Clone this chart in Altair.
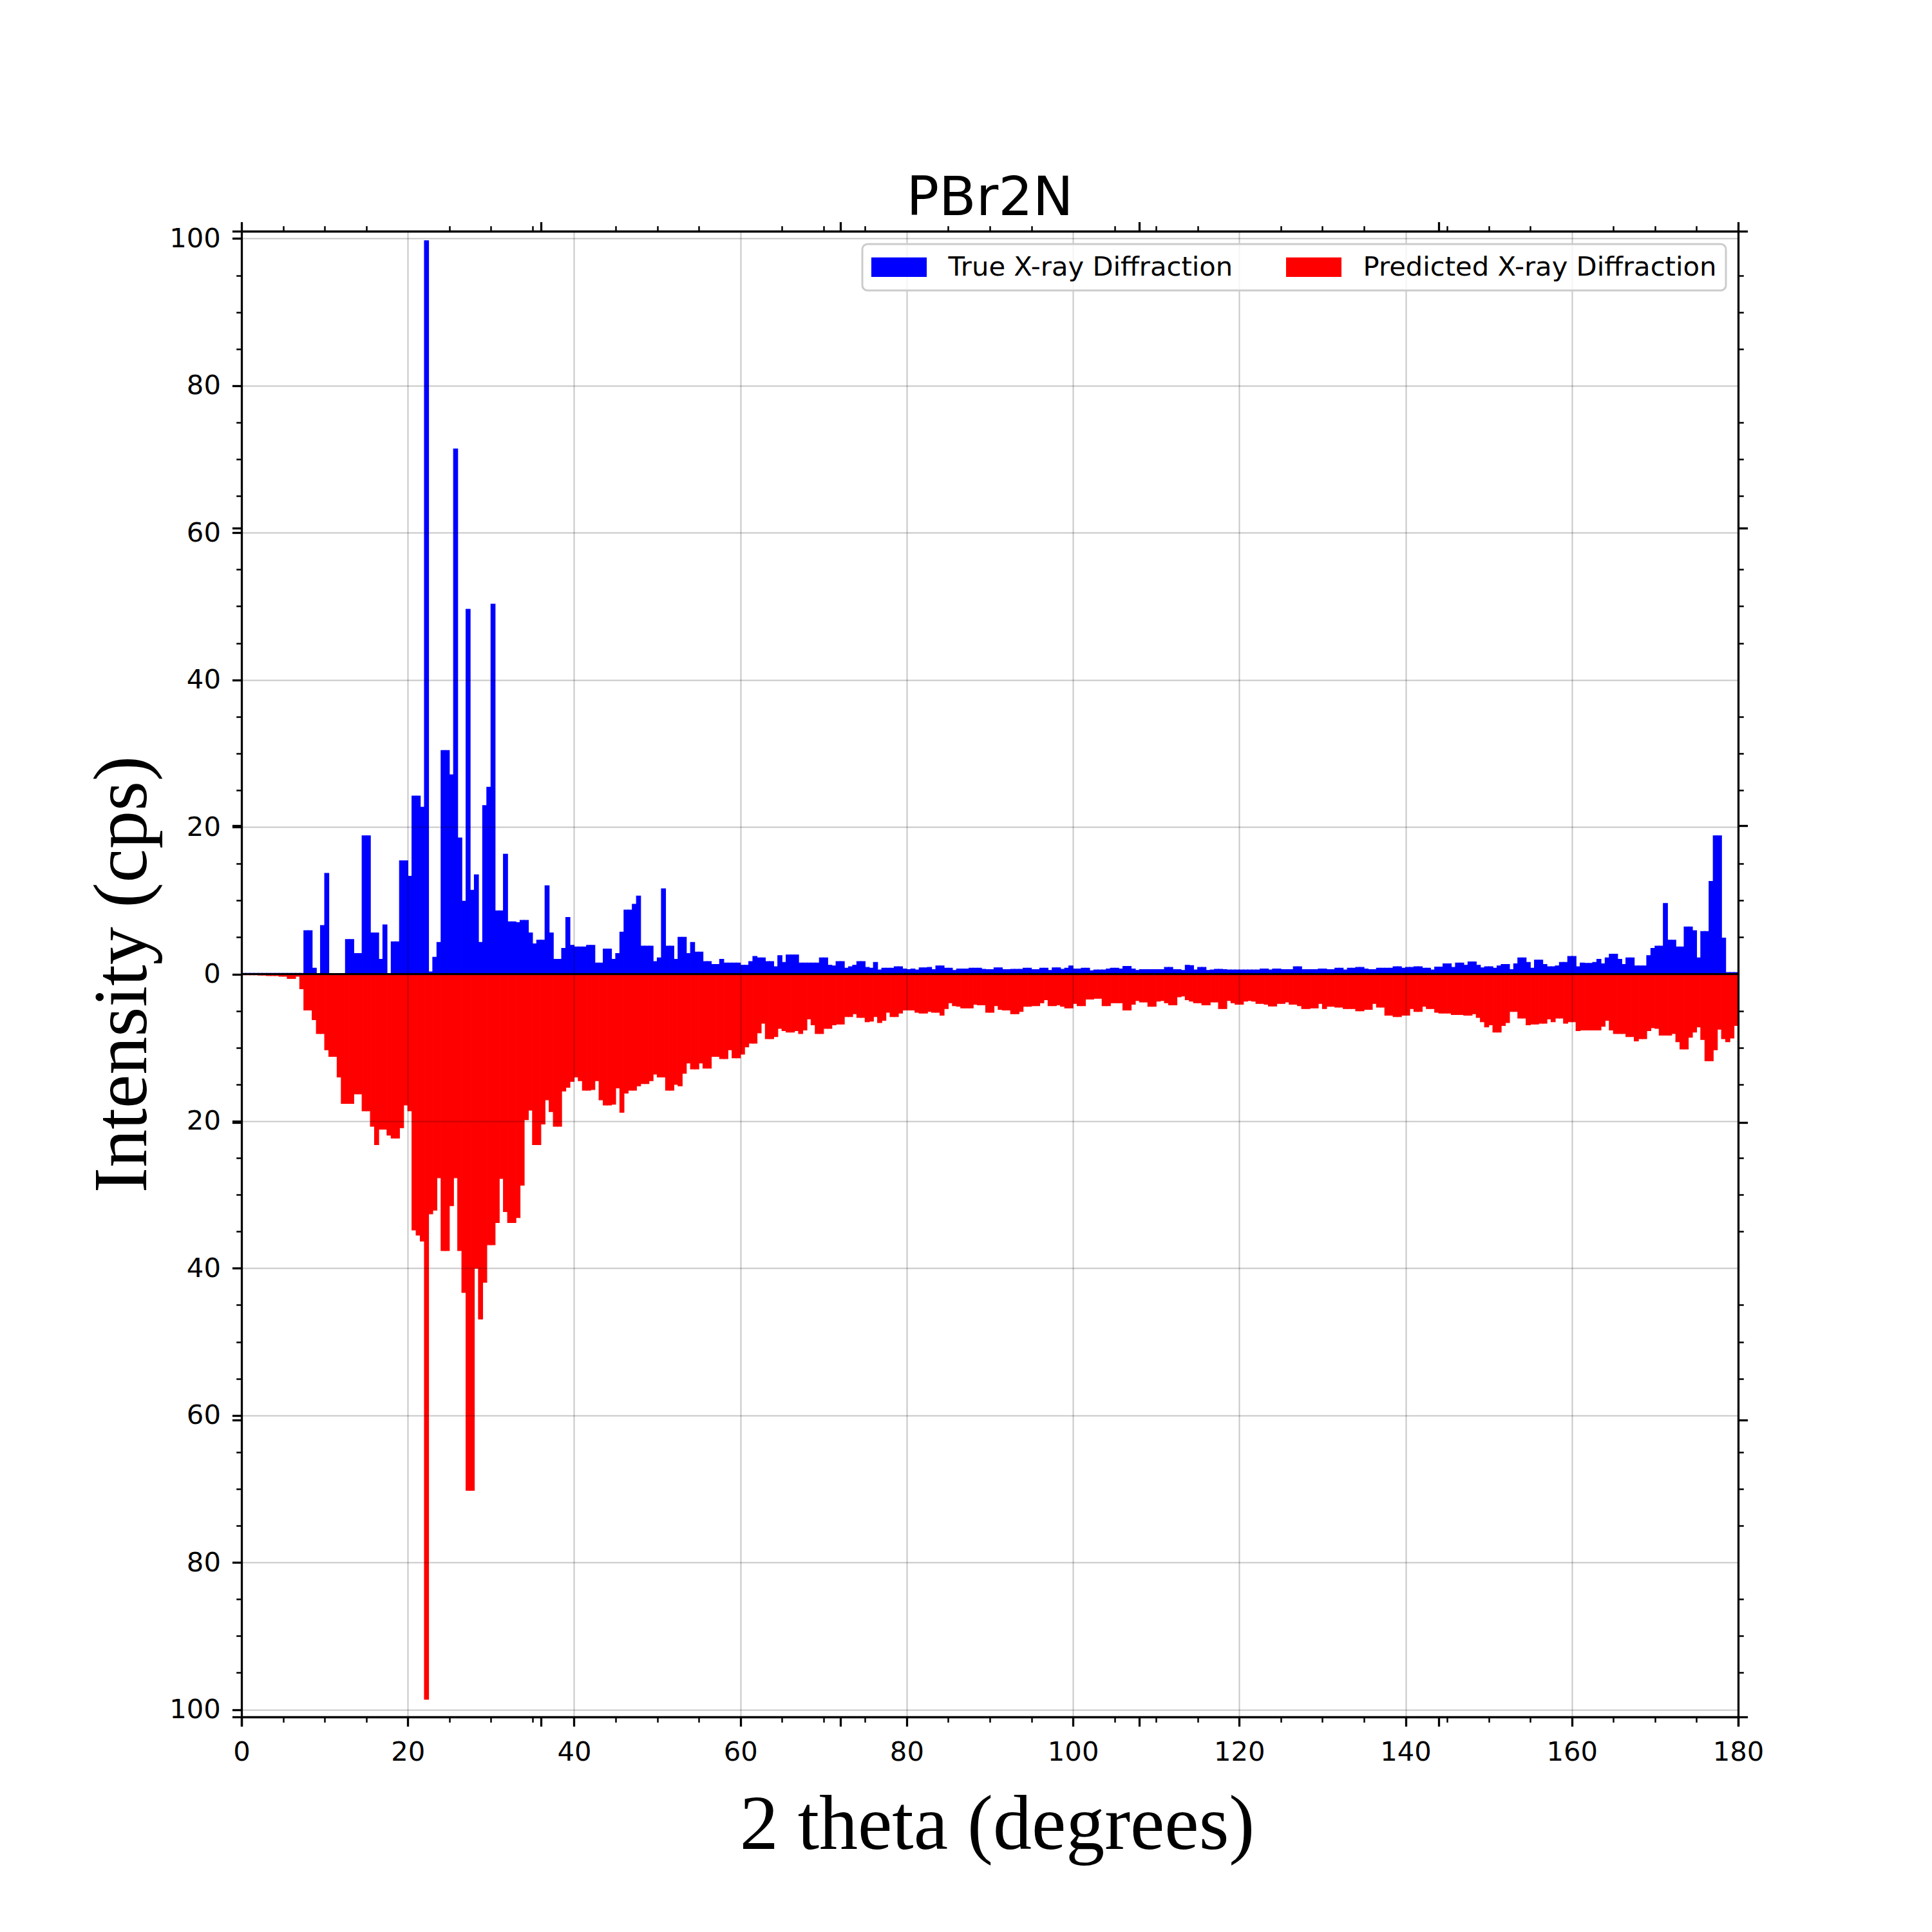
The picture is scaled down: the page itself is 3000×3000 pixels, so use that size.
import altair as alt
import pandas as pd

BIN_WIDTH = 0.5  # degrees covered by each bar

series_names = ["True X-ray Diffraction", "Predicted X-ray Diffraction"]
series_colors = ["#0000ff", "#ff0000"]

# intensities per 0.5-degree bin, 0..180 degrees (20 bins = 10 degrees per line)
true_intensity = [
    0.1, 0.1, 0.1, 0.1, 0.1, 0.1, 0.1, 0.1, 0.1, 0.1, 0.1, 0.1, 0.1, 0.1, 0.1, 5.9, 5.9, 0.8, 0.0, 6.6,
    13.7, 0.0, 0.0, 0.0, 0.0, 4.7, 4.7, 2.8, 2.8, 18.8, 18.8, 5.6, 5.6, 2.0, 6.7, 0.0, 4.4, 4.4, 15.4, 15.4,
    13.3, 24.2, 24.2, 22.7, 99.7, 0.3, 2.3, 4.3, 30.4, 30.4, 27.1, 71.4, 18.5, 9.9, 49.6, 11.4, 13.5, 4.3, 22.9, 25.4,
    50.3, 8.6, 8.6, 16.3, 7.1, 7.1, 7.0, 7.3, 7.3, 5.6, 4.1, 4.6, 4.6, 12.0, 5.6, 2.0, 2.0, 3.5, 7.7, 3.9,
    3.7, 3.7, 3.7, 3.9, 3.9, 1.5, 1.5, 3.4, 3.4, 2.0, 2.8, 5.7, 8.7, 8.7, 9.5, 10.6, 3.8, 3.8, 3.8, 1.7,
    2.2, 11.6, 3.8, 3.8, 2.0, 5.0, 5.0, 2.8, 4.3, 3.0, 3.0, 1.7, 1.7, 1.3, 1.3, 2.0, 1.5, 1.5, 1.5, 1.5,
    1.2, 1.2, 1.7, 2.4, 2.2, 2.2, 1.7, 1.7, 1.0, 2.5, 1.6, 2.6, 2.6, 2.6, 1.5, 1.5, 1.5, 1.5, 1.5, 2.2,
    2.2, 1.2, 1.1, 1.7, 1.7, 0.8, 1.0, 1.2, 1.7, 1.7, 0.9, 0.8, 1.6, 0.55, 0.8, 0.8, 0.8, 1.0, 1.0, 0.7,
    0.6, 0.7, 0.55, 0.85, 0.85, 0.9, 0.6, 1.1, 1.1, 0.8, 0.8, 0.5, 0.7, 0.7, 0.7, 0.8, 0.8, 0.8, 0.65, 0.6,
    0.6, 0.85, 0.85, 0.6, 0.6, 0.65, 0.65, 0.65, 0.8, 0.8, 0.6, 0.6, 0.8, 0.8, 0.5, 0.85, 0.85, 0.65, 0.8, 1.1,
    0.7, 0.7, 0.8, 0.8, 0.45, 0.55, 0.55, 0.55, 0.7, 0.8, 0.8, 0.7, 1.05, 1.05, 0.7, 0.5, 0.6, 0.6, 0.6, 0.6,
    0.6, 0.6, 0.9, 0.9, 0.6, 0.6, 0.5, 1.2, 1.15, 0.55, 0.9, 0.9, 0.5, 0.55, 0.65, 0.65, 0.6, 0.55, 0.55, 0.55,
    0.55, 0.55, 0.55, 0.55, 0.55, 0.7, 0.7, 0.55, 0.7, 0.7, 0.6, 0.6, 0.6, 1.0, 1.0, 0.6, 0.6, 0.6, 0.6, 0.7,
    0.7, 0.6, 0.6, 0.8, 0.8, 0.55, 0.8, 0.8, 0.9, 0.9, 0.7, 0.6, 0.6, 0.8, 0.8, 0.8, 0.8, 1.0, 1.0, 0.8,
    0.9, 0.9, 1.0, 1.0, 0.8, 0.8, 0.55, 0.95, 0.95, 1.4, 1.4, 0.9, 1.5, 1.5, 1.2, 1.65, 1.65, 1.2, 0.85, 1.0,
    1.0, 0.8, 1.1, 1.3, 1.3, 0.6, 1.4, 2.2, 2.2, 1.6, 0.8, 1.9, 1.9, 1.3, 1.0, 1.0, 1.1, 1.6, 1.6, 2.4,
    2.4, 1.0, 1.5, 1.45, 1.45, 1.6, 2.0, 1.4, 2.2, 2.7, 2.7, 2.0, 1.3, 2.2, 2.2, 1.1, 1.1, 1.1, 2.5, 3.5,
    3.8, 3.8, 9.6, 4.6, 4.6, 3.7, 3.7, 6.4, 6.4, 5.9, 2.2, 5.8, 5.8, 12.6, 18.8, 18.8, 4.9, 0.2, 0.2, 0.2,
]

predicted_intensity = [
    0.1, 0.1, 0.1, 0.1, 0.15, 0.15, 0.2, 0.2, 0.2, 0.3, 0.3, 0.6, 0.6, 0.3, 2.0, 4.9, 4.9, 6.2, 8.1, 8.1,
    10.3, 11.2, 11.2, 14.0, 17.6, 17.6, 17.6, 16.3, 16.3, 18.6, 18.6, 20.7, 23.2, 21.1, 21.1, 21.9, 22.3, 22.3, 20.9, 17.8,
    18.6, 34.8, 35.5, 36.3, 98.6, 32.6, 32.1, 27.7, 37.6, 37.6, 31.5, 27.7, 37.6, 43.3, 70.2, 70.2, 40.0, 46.9, 41.9, 36.8,
    36.8, 33.8, 27.8, 32.3, 33.8, 33.8, 33.1, 28.7, 19.8, 18.5, 23.2, 23.2, 20.4, 17.1, 18.7, 20.7, 20.7, 15.9, 15.4, 14.6,
    14.0, 14.5, 15.8, 15.8, 15.7, 14.5, 17.1, 17.8, 17.8, 17.7, 15.5, 18.8, 16.2, 15.8, 15.8, 15.2, 14.9, 14.9, 14.5, 13.6,
    14.0, 14.0, 15.8, 15.8, 15.0, 15.2, 13.5, 12.1, 12.9, 12.9, 12.1, 12.8, 12.8, 11.2, 11.2, 11.5, 11.5, 10.3, 11.4, 11.4,
    10.9, 9.9, 9.4, 9.4, 8.0, 6.7, 8.8, 8.8, 8.5, 7.4, 7.7, 7.9, 7.9, 7.7, 8.1, 7.6, 6.1, 6.9, 8.1, 8.1,
    7.4, 7.4, 6.9, 6.8, 6.8, 5.8, 5.8, 5.4, 5.9, 5.9, 6.5, 6.4, 5.8, 6.6, 6.3, 5.2, 5.8, 5.8, 5.3, 4.9,
    4.9, 4.9, 5.2, 5.3, 5.3, 5.1, 5.2, 5.2, 5.6, 4.7, 3.9, 4.3, 4.4, 4.6, 4.6, 4.6, 4.1, 4.2, 4.2, 5.2,
    5.2, 4.3, 4.8, 4.9, 4.9, 5.4, 5.4, 5.1, 4.4, 4.4, 4.3, 4.3, 3.9, 3.5, 4.3, 4.3, 4.2, 4.4, 4.6, 4.6,
    4.0, 4.3, 4.3, 3.4, 3.4, 3.3, 3.3, 4.3, 4.3, 3.9, 3.9, 3.9, 4.9, 4.9, 4.1, 3.6, 3.8, 3.8, 4.4, 4.4,
    3.7, 3.6, 3.9, 4.2, 4.2, 3.1, 3.0, 3.5, 3.7, 3.9, 3.9, 4.2, 4.2, 3.8, 3.8, 4.7, 4.7, 3.6, 3.9, 4.1,
    4.1, 3.7, 3.6, 3.7, 4.0, 4.0, 4.1, 4.35, 4.35, 4.0, 4.0, 3.8, 4.1, 4.1, 4.3, 4.7, 4.7, 4.6, 4.6, 4.0,
    4.7, 4.4, 4.4, 4.5, 4.5, 4.7, 4.7, 4.7, 5.0, 5.0, 4.8, 4.8, 4.0, 4.5, 4.5, 5.6, 5.6, 5.8, 5.8, 5.6,
    5.6, 4.7, 5.1, 5.1, 4.4, 4.7, 4.7, 5.2, 5.3, 5.3, 5.3, 5.5, 5.5, 5.5, 5.6, 5.6, 5.4, 5.9, 6.5, 7.2,
    6.9, 7.9, 7.9, 7.0, 6.6, 5.1, 5.1, 6.0, 6.0, 6.9, 6.8, 6.8, 6.7, 6.7, 6.1, 6.5, 6.0, 6.0, 6.7, 6.5,
    6.5, 7.7, 7.6, 7.6, 7.6, 7.6, 7.6, 7.1, 6.3, 7.6, 8.1, 8.1, 8.1, 8.5, 8.5, 9.1, 8.8, 8.8, 7.7, 7.3,
    7.4, 8.3, 8.3, 8.3, 8.1, 9.2, 10.2, 10.2, 8.6, 7.9, 7.2, 8.9, 11.8, 11.8, 10.3, 7.5, 8.8, 9.2, 8.7, 7.0,
]

# tick positions
x_major = list(range(0, 181, 20))
x_minor = [v for v in range(5, 180, 5) if v % 20]
x_twin = [0, 36, 72, 108, 144, 180]
y_major = list(range(-100, 101, 20))
y_minor = [v for v in range(-95, 100, 5) if v % 20]
y_twin = [-101, -60.6, -20.2, 20.2, 60.6, 101]

rows = []
for i, v in enumerate(true_intensity):
    rows.append({"theta": i * BIN_WIDTH, "intensity": v, "series": series_names[0]})
for i, v in enumerate(predicted_intensity):
    rows.append({"theta": i * BIN_WIDTH, "intensity": -v, "series": series_names[1]})
df = pd.DataFrame(rows)
anchor = pd.DataFrame({"theta": [0.0], "intensity": [0.0]})

x_scale = alt.Scale(domain=[0, 180], nice=False, zero=False)
y_scale = alt.Scale(domain=[-101, 101], nice=False, zero=False)
series_scale = alt.Scale(domain=series_names, range=series_colors)

MAJOR_LEN, MINOR_LEN = 14.6, 8.3
MAJOR_W, MINOR_W = 3.3, 2.5
GRID = dict(grid=True, gridColor="black", gridOpacity=0.22, gridWidth=2)

main_x_axis = alt.Axis(
    orient="bottom", values=x_major, format="d",
    tickSize=MAJOR_LEN, tickWidth=MAJOR_W, tickColor="black",
    labelFont="DejaVu Sans", labelFontSize=41.7, labelColor="black",
    labelPadding=20, labelFlush=False, labelOverlap=False,
    domain=True, domainColor="black", domainWidth=3.3,
    title="2 theta (degrees)", titleFont="Liberation Serif", titleFontSize=120,
    titleFontWeight="normal", titleColor="black", titleBaseline="alphabetic",
    titlePadding=128, titleX=1173, zindex=1, **GRID,
)
main_y_axis = alt.Axis(
    orient="left", values=y_major, labelExpr="abs(datum.value)",
    tickSize=MAJOR_LEN, tickWidth=MAJOR_W, tickColor="black",
    labelFont="DejaVu Sans", labelFontSize=41.7, labelColor="black",
    labelPadding=18, labelFlush=False, labelOverlap=False,
    domain=True, domainColor="black", domainWidth=3.3,
    title="Intensity (cps)", titleFont="Liberation Serif", titleFontSize=118,
    titleFontWeight="normal", titleColor="black", titleBaseline="alphabetic",
    titlePadding=36, zindex=1, **GRID,
)


def tick_axis(orient, values, size, width, domain=False):
    return alt.Axis(
        orient=orient, values=values, tickSize=size, tickWidth=width,
        tickColor="black", labels=False, grid=False, domain=domain,
        domainColor="black", domainWidth=3.3, title="", zindex=1,
    )


def guide_layer(xaxis, yaxis):
    return alt.Chart(anchor).mark_point(opacity=0, size=0).encode(
        x=alt.X("theta:Q", scale=x_scale, axis=xaxis),
        y=alt.Y("intensity:Q", scale=y_scale, axis=yaxis),
    )


bars = (
    alt.Chart(df)
    .transform_calculate(theta_end=f"datum.theta + {BIN_WIDTH}")
    .mark_bar(strokeWidth=1.2, opacity=1)
    .encode(
        x=alt.X("theta:Q", scale=x_scale, axis=main_x_axis),
        x2="theta_end:Q",
        y=alt.Y("intensity:Q", scale=y_scale, axis=main_y_axis),
        y2=alt.datum(0),
        stroke=alt.Stroke("series:N", scale=series_scale, legend=None),
        color=alt.Color(
            "series:N",
            scale=series_scale,
            legend=alt.Legend(
                title=None, orient="none", legendX=964, legendY=20,
                direction="horizontal",
                symbolType="M-2,-0.7H2V0.7H-2Z", symbolSize=1849,
                symbolStrokeWidth=0, symbolOffset=21.5, symbolOpacity=1,
                labelFont="DejaVu Sans", labelFontSize=41.7, labelColor="black",
                labelOffset=55, labelLimit=2000,
                padding=14, strokeColor="#cccccc",
                cornerRadius=8, fillColor="rgba(255,255,255,0.8)", zindex=2,
            ),
        ),
    )
)

zero_line = alt.Chart(anchor).mark_rule(color="black", strokeWidth=3).encode(
    y=alt.YDatum(datum=0, scale=y_scale, axis=None)
)

chart = (
    alt.layer(
        bars,
        zero_line,
        guide_layer(tick_axis("bottom", x_minor, MINOR_LEN, MINOR_W),
                    tick_axis("left", y_minor, MINOR_LEN, MINOR_W)),
        guide_layer(tick_axis("bottom", x_twin, MAJOR_LEN, MAJOR_W),
                    tick_axis("left", y_twin, MAJOR_LEN, MAJOR_W)),
        guide_layer(tick_axis("top", x_minor, MINOR_LEN, MINOR_W),
                    tick_axis("right", y_minor, MINOR_LEN, MINOR_W)),
        guide_layer(tick_axis("top", x_twin, MAJOR_LEN, MAJOR_W, domain=True),
                    tick_axis("right", y_twin, MAJOR_LEN, MAJOR_W, domain=True)),
    )
    .resolve_axis(x="independent", y="independent")
    .properties(
        width=2324,
        height=2307,
        title=alt.TitleParams(
            text="PBr2N", font="DejaVu Sans", fontSize=84, fontWeight="normal",
            color="black", anchor="middle", frame="group",
            baseline="alphabetic", offset=8, dy=83,
        ),
        autosize=alt.AutoSizeParams(type="none"),
        padding={"left": 367, "top": 351, "right": 293, "bottom": 326},
        background="white",
    )
    .configure_view(stroke=None)
    .configure_legend(strokeWidth=3, columnPadding=82)
)

chart.save("out.html", embed_options={"renderer": "svg", "actions": False})
